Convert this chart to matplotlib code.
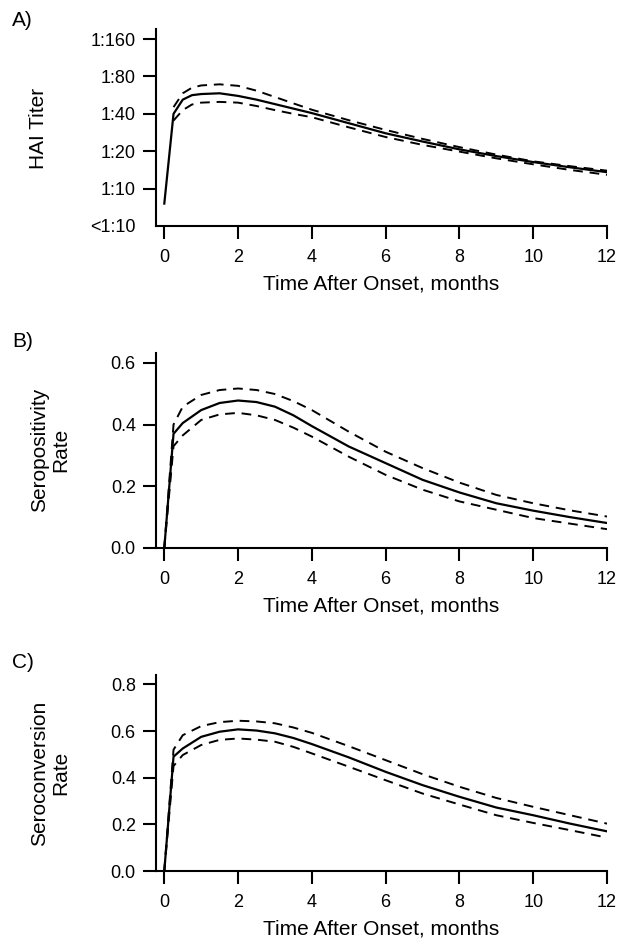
import matplotlib
matplotlib.use("Agg")
import matplotlib.pyplot as plt

plt.rcParams['font.family'] = ['Liberation Sans', 'DejaVu Sans']

# --- data ---
# A) HAI titer, y in log2 steps: 0 = <1:10, 1 = 1:10, ... 5 = 1:160
a_months = [0, 0.25, 0.5, 0.75, 1, 1.5, 2, 2.5, 3, 3.5, 4, 5, 6, 7, 8, 9, 10, 11, 12]
a_fit = [0.6, 3.0, 3.38, 3.5, 3.53, 3.55, 3.48, 3.38, 3.26, 3.14, 3.02, 2.75, 2.48, 2.26, 2.05, 1.87, 1.71, 1.57, 1.44]
a_ci_months = [0.25, 0.5, 0.75, 1, 1.5, 2, 2.5, 3, 3.5, 4, 5, 6, 7, 8, 9, 10, 11, 12]
a_upper = [3.18, 3.55, 3.7, 3.76, 3.79, 3.75, 3.62, 3.45, 3.28, 3.11, 2.83, 2.57, 2.33, 2.11, 1.91, 1.73, 1.6, 1.48]
a_lower = [2.82, 3.1, 3.25, 3.3, 3.32, 3.3, 3.21, 3.1, 3.0, 2.91, 2.64, 2.38, 2.17, 1.99, 1.81, 1.65, 1.5, 1.37]
a_ticks = ['<1:10', '1:10', '1:20', '1:40', '1:80', '1:160']

# B) seropositivity rate
b_months = [0, 0.25, 0.5, 1, 1.5, 2, 2.5, 3, 3.5, 4, 5, 6, 7, 8, 9, 10, 11, 12]
b_fit = [0.0, 0.37, 0.405, 0.447, 0.47, 0.478, 0.473, 0.458, 0.43, 0.395, 0.329, 0.275, 0.221, 0.18, 0.145, 0.121, 0.1, 0.081]
b_upper = [0.0, 0.40, 0.458, 0.496, 0.512, 0.517, 0.512, 0.499, 0.476, 0.447, 0.377, 0.312, 0.259, 0.212, 0.172, 0.145, 0.122, 0.102]
b_lower = [0.0, 0.33, 0.365, 0.415, 0.433, 0.438, 0.43, 0.415, 0.39, 0.361, 0.296, 0.237, 0.189, 0.151, 0.124, 0.097, 0.079, 0.061]

# C) seroconversion rate
c_months = [0, 0.25, 0.5, 1, 1.5, 2, 2.5, 3, 3.5, 4, 5, 6, 7, 8, 9, 10, 11, 12]
c_fit = [0.0, 0.49, 0.525, 0.575, 0.597, 0.607, 0.602, 0.59, 0.57, 0.544, 0.487, 0.425, 0.368, 0.318, 0.272, 0.239, 0.203, 0.17]
c_upper = [0.0, 0.52, 0.582, 0.621, 0.638, 0.644, 0.641, 0.633, 0.615, 0.592, 0.535, 0.475, 0.415, 0.361, 0.313, 0.275, 0.239, 0.203]
c_lower = [0.0, 0.45, 0.497, 0.54, 0.562, 0.568, 0.563, 0.554, 0.532, 0.504, 0.447, 0.389, 0.332, 0.285, 0.239, 0.206, 0.175, 0.143]

xticks = [0, 2, 4, 6, 8, 10, 12]

W, H = 620, 943
fig = plt.figure(figsize=(W / 100, H / 100), dpi=100)

# axes boxes in pixels: left, top, right, bottom
boxes = [(156, 29, 607, 226), (156, 353, 607, 548), (156, 675, 607, 871)]
axes = []
for l, t, r, b in boxes:
    ax = fig.add_axes([l / W, 1 - b / H, (r - l) / W, (b - t) / H])
    axes.append(ax)

dash = (0, (5, 3.5))
for ax in axes:
    for s in ['top', 'right']:
        ax.spines[s].set_visible(False)
    for s in ['left', 'bottom']:
        ax.spines[s].set_linewidth(1.5)
    ax.tick_params(length=9.5, width=1.5, labelsize=13)
    ax.tick_params(axis='x', pad=7)
    ax.tick_params(axis='y', pad=5)
    ax.set_xlim(-0.225, 12)
    ax.set_xticks(xticks)
    ax.set_xlabel('Time After Onset, months', fontsize=15, labelpad=6)

ax = axes[0]
ax.plot(a_months, a_fit, color='black', lw=1.6)
ax.plot(a_ci_months, a_upper, color='black', lw=1.4, linestyle=dash)
ax.plot(a_ci_months, a_lower, color='black', lw=1.4, linestyle=dash)
ax.set_ylim(0, 5.27)
ax.set_yticks(range(6))
ax.set_yticklabels(a_ticks)
ax.yaxis.get_major_ticks()[0].tick1line.set_visible(False)

ax = axes[1]
ax.plot(b_months, b_fit, color='black', lw=1.6)
ax.plot(b_months, b_upper, color='black', lw=1.4, linestyle=dash)
ax.plot(b_months, b_lower, color='black', lw=1.4, linestyle=dash)
ax.set_ylim(0, 0.632)
ax.set_yticks([0, 0.2, 0.4, 0.6])
ax.set_yticklabels(['0.0', '0.2', '0.4', '0.6'])

ax = axes[2]
ax.plot(c_months, c_fit, color='black', lw=1.6)
ax.plot(c_months, c_upper, color='black', lw=1.4, linestyle=dash)
ax.plot(c_months, c_lower, color='black', lw=1.4, linestyle=dash)
ax.set_ylim(0, 0.84)
ax.set_yticks([0, 0.2, 0.4, 0.6, 0.8])
ax.set_yticklabels(['0.0', '0.2', '0.4', '0.6', '0.8'])

# panel letters and y labels
for txt, y in [('A)', 20), ('B)', 342), ('C)', 663)]:
    fig.text(12 / W, 1 - y / H, txt, fontsize=15, va='center', ha='left')
fig.text(38 / W, 1 - 128 / H, 'HAI Titer', fontsize=15, rotation=90, va='center', ha='center')
fig.text(50 / W, 1 - 450 / H, 'Seropositivity\nRate', fontsize=15, rotation=90,
         va='center', ha='center', multialignment='center', linespacing=1.1)
fig.text(50 / W, 1 - 773 / H, 'Seroconversion\nRate', fontsize=15, rotation=90,
         va='center', ha='center', multialignment='center', linespacing=1.1)

fig.savefig('out.png', dpi=100)
